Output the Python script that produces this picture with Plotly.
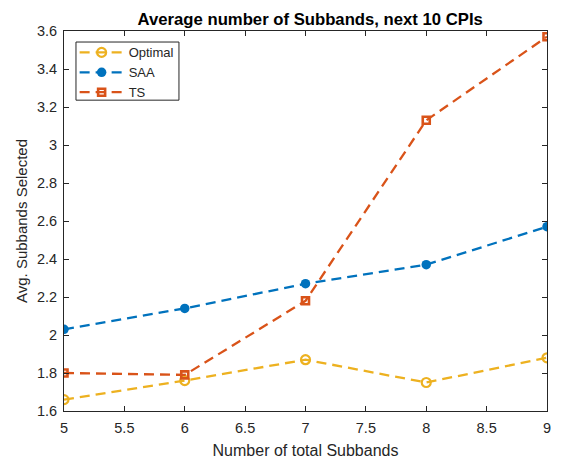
import plotly.graph_objects as go

# Data
n_subbands = [5, 6, 7, 8, 9]
optimal = [1.66, 1.76, 1.87, 1.75, 1.88]
saa = [2.03, 2.14, 2.27, 2.37, 2.57]
ts = [1.80, 1.79, 2.18, 3.13, 3.57]

x_ticks = [5, 5.5, 6, 6.5, 7, 7.5, 8, 8.5, 9]
x_tick_text = ["5", "5.5", "6", "6.5", "7", "7.5", "8", "8.5", "9"]
y_ticks = [1.6, 1.8, 2.0, 2.2, 2.4, 2.6, 2.8, 3.0, 3.2, 3.4, 3.6]
y_tick_text = ["1.6", "1.8", "2", "2.2", "2.4", "2.6", "2.8", "3", "3.2", "3.4", "3.6"]

FONT = "Liberation Sans, Arial, Helvetica, sans-serif"
AXIS_COLOR = "#262626"
DASH = "10px,6px"

fig = go.Figure()

fig.add_trace(go.Scatter(
    x=n_subbands, y=optimal, name="Optimal", mode="lines+markers",
    line=dict(color="#EDB120", width=2.3, dash=DASH),
    marker=dict(symbol="circle-open", size=9, color="#EDB120",
                line=dict(width=2.2, color="#EDB120")),
))
fig.add_trace(go.Scatter(
    x=n_subbands, y=saa, name="SAA", mode="lines+markers",
    line=dict(color="#0072BD", width=2.3, dash=DASH),
    marker=dict(symbol="circle", size=9.5, color="#0072BD"),
))
fig.add_trace(go.Scatter(
    x=n_subbands, y=ts, name="TS", mode="lines+markers",
    line=dict(color="#D95319", width=2.3, dash=DASH),
    marker=dict(symbol="square-open", size=7, color="#D95319",
                line=dict(width=2.6, color="#D95319")),
))

axis_common = dict(
    showgrid=False, zeroline=False, showline=True, linecolor=AXIS_COLOR,
    linewidth=1, mirror="ticks", ticks="inside", ticklen=5, automargin=False,
    tickcolor=AXIS_COLOR, tickfont=dict(family=FONT, size=14.5, color=AXIS_COLOR),
)

fig.update_layout(
    width=563, height=459,
    margin=dict(l=64, r=16, t=31, b=48),
    paper_bgcolor="white", plot_bgcolor="white",
    font=dict(family=FONT, color=AXIS_COLOR),
    title=dict(text="<b>Average number of Subbands, next 10 CPIs</b>",
               x=0.551, xanchor="center", y=0.958, yanchor="middle",
               font=dict(family=FONT, size=16.7, color="black")),
    xaxis=dict(range=[5, 9], tickvals=x_ticks, ticktext=x_tick_text,
               ticklabelstandoff=4,
               title=dict(text="Number of total Subbands", standoff=9,
                          font=dict(family=FONT, size=16, color=AXIS_COLOR)),
               **axis_common),
    yaxis=dict(range=[1.6, 3.6], tickvals=y_ticks, ticktext=y_tick_text,
               ticklabelstandoff=3,
               title=dict(text="Avg. Subbands Selected", standoff=5,
                          font=dict(family=FONT, size=15, color=AXIS_COLOR)),
               **axis_common),
    legend=dict(x=0.022, y=0.983, xanchor="left", yanchor="top",
                bgcolor="rgba(0,0,0,0)", borderwidth=0,
                font=dict(family=FONT, size=13, color=AXIS_COLOR),
                tracegroupgap=0, itemwidth=44),
    showlegend=True,
    # legend frame
    shapes=[dict(type="rect", xref="paper", yref="paper",
                 x0=0.0248, x1=0.238, y0=0.818, y1=0.971,
                 line=dict(color="#262626", width=1), fillcolor="white",
                 layer="above")],
)

fig.write_html("out.html")
